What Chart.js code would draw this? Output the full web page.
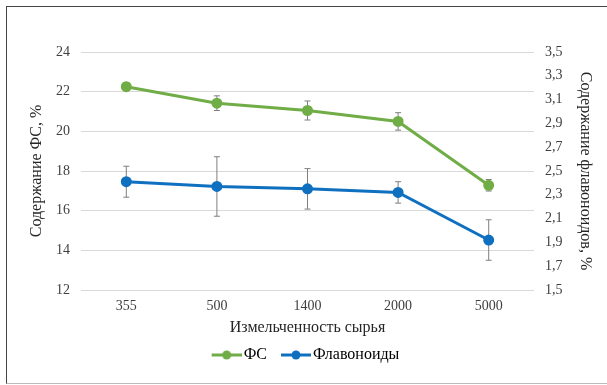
<!DOCTYPE html>
<html>
<head>
<meta charset="utf-8">
<script src="https://cdn.jsdelivr.net/npm/chart.js@4.4.1/dist/chart.umd.min.js"></script>
<style>
  body { margin: 0; background: #fff; }
  #frame { position: absolute; left: 6px; top: 6px; width: 620px; height: 376px;
           border-left: 1px solid #444; border-top: 1px solid #444; border-bottom: 1px solid #bbb; }
  #chart { position: absolute; left: 0; top: 0; }
</style>
</head>
<body>
<div id="frame"></div>
<canvas id="chart" width="607" height="385"></canvas>
<script>
const categories = ['355', '500', '1400', '2000', '5000'];
const fsValues = [22.25, 21.42, 21.05, 20.5, 17.28];
const fsErrors = [0.2, 0.37, 0.48, 0.44, 0.29];
const flavValues = [2.41, 2.37, 2.35, 2.32, 1.92];
const flavErrors = [0.13, 0.25, 0.17, 0.09, 0.17];

const GREEN = '#70AD47';
const BLUE = '#1070C0';
const FONT = "'Liberation Serif', 'DejaVu Serif', serif";

// legend icon: line with a dot, shifted right so the text sits close to it
function legendIcon(color) {
    const c = document.createElement('canvas');
    c.width = 40;
    c.height = 10;
    const g = c.getContext('2d');
    g.strokeStyle = color;
    g.lineWidth = 3;
    g.beginPath();
    g.moveTo(10, 5);
    g.lineTo(40, 5);
    g.stroke();
    g.fillStyle = color;
    g.beginPath();
    g.arc(25, 5, 4.5, 0, Math.PI * 2);
    g.fill();
    return c;
}

// error bars drawn from the scales of each dataset
const errorBars = {
    id: 'errorBars',
    beforeDatasetsDraw(chart) {
        const ctx = chart.ctx;
        const errs = [fsErrors, flavErrors];
        chart.data.datasets.forEach((ds, i) => {
            const meta = chart.getDatasetMeta(i);
            const yScale = chart.scales[ds.yAxisID];
            meta.data.forEach((pt, j) => {
                const v = ds.data[j];
                const top = yScale.getPixelForValue(v + errs[i][j]);
                const bot = yScale.getPixelForValue(v - errs[i][j]);
                ctx.save();
                ctx.strokeStyle = '#7f7f7f';
                ctx.lineWidth = 1;
                ctx.beginPath();
                ctx.moveTo(pt.x, top);
                ctx.lineTo(pt.x, bot);
                ctx.moveTo(pt.x - 3, top);
                ctx.lineTo(pt.x + 3, top);
                ctx.moveTo(pt.x - 3, bot);
                ctx.lineTo(pt.x + 3, bot);
                ctx.stroke();
                ctx.restore();
            });
        });
    }
};

new Chart(document.getElementById('chart').getContext('2d'), {
    type: 'line',
    data: {
        labels: categories,
        datasets: [{
            label: 'ФС',
            data: fsValues,
            yAxisID: 'y',
            borderColor: GREEN,
            backgroundColor: GREEN,
            borderWidth: 3,
            pointRadius: 4,
            pointStyle: 'circle',
            tension: 0
        }, {
            label: 'Флавоноиды',
            data: flavValues,
            yAxisID: 'y1',
            borderColor: BLUE,
            backgroundColor: BLUE,
            borderWidth: 3,
            pointRadius: 4,
            pointStyle: 'circle',
            tension: 0
        }]
    },
    options: {
        responsive: false,
        animation: false,
        layout: { padding: { top: 52, left: 0, right: 0, bottom: 12 } },
        plugins: {
            tooltip: { enabled: false },
            legend: {
                position: 'bottom',
                labels: {
                    usePointStyle: true,
                    pointStyleWidth: 28,
                    padding: 10,
                    color: '#262626',
                    font: { family: FONT, size: 16 },
                    generateLabels(chart) {
                        return chart.data.datasets.map((ds, i) => ({
                            text: ds.label,
                            pointStyle: legendIcon(ds.borderColor),
                            fillStyle: ds.borderColor,
                            strokeStyle: ds.borderColor,
                            lineWidth: 0,
                            hidden: false,
                            datasetIndex: i
                        }));
                    }
                }
            }
        },
        scales: {
            x: {
                offset: true,
                grid: { display: false, drawTicks: false },
                border: { display: false },
                ticks: { color: '#404040', font: { family: FONT, size: 14 }, padding: 8 },
                title: { display: true, text: 'Измельченность сырья', color: '#262626',
                         font: { family: FONT, size: 16 }, padding: { top: 0, bottom: 0 } },
                afterFit(scale) { scale.height = 47; }
            },
            y: {
                position: 'left',
                min: 12,
                max: 24,
                ticks: { stepSize: 2, color: '#404040', font: { family: FONT, size: 14 }, padding: 11 },
                grid: { color: '#d9d9d9', drawTicks: false },
                border: { display: false },
                title: { display: true, text: 'Содержание ФС, %', color: '#262626',
                         font: { family: FONT, size: 16 }, padding: { top: 27, bottom: 0 } },
                afterFit(scale) { scale.width = 81; }
            },
            y1: {
                position: 'right',
                min: 1.5,
                max: 3.5,
                ticks: {
                    stepSize: 0.2, color: '#404040', font: { family: FONT, size: 14 }, padding: 11,
                    callback: v => v.toFixed(1).replace('.', ',')
                },
                grid: { display: false, drawTicks: false },
                border: { display: false },
                title: { display: true, text: 'Содержание флавоноидов, %', color: '#262626',
                         font: { family: FONT, size: 16 }, padding: { top: 12, bottom: 0 } },
                afterFit(scale) { scale.width = 73; }
            }
        }
    },
    plugins: [errorBars]
});
</script>
</body>
</html>
